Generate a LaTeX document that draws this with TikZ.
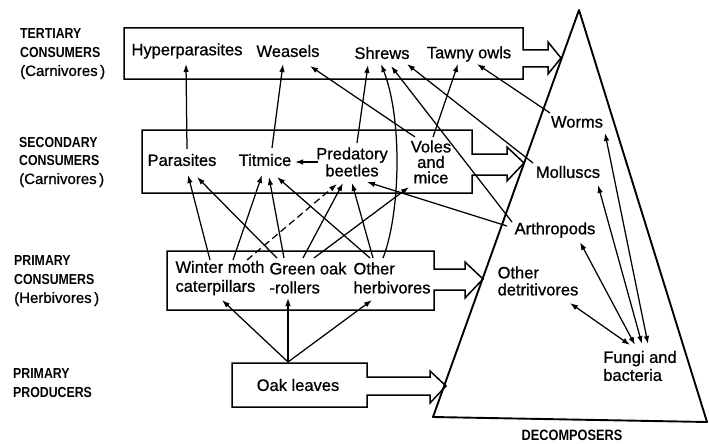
\documentclass[tikz,border=0pt]{standalone}
\usepackage{fontspec}
\setmainfont[FakeBold=0.8]{Liberation Sans}
\newfontfamily\capsfont[FakeStretch=0.85]{Liberation Sans Bold}
\newfontfamily\parenfont[FakeBold=0.8]{Liberation Sans}
\usetikzlibrary{arrows.meta,calc}
\begin{document}
\begin{tikzpicture}[x=1pt,y=-1pt,
  lbl/.style={inner sep=0pt, font=\fontsize{16.5}{18}\selectfont},
  side/.style={inner sep=0pt, anchor=west, align=left, font=\capsfont\fontsize{14.5}{18.5}\selectfont},
  box/.style={draw, line width=1.5pt, line join=miter},
  tri/.style={draw, line width=1.9pt, line join=round},
  arr/.style={-{Latex[length=8pt,width=5.5pt]}, line width=1.25pt},
  darr/.style={{Latex[length=8pt,width=5.5pt]}-{Latex[length=8pt,width=5.5pt]}, line width=1.25pt},
]
\useasboundingbox[fill=white] (0,0) rectangle (709,444);

% boxes with block arrows
\draw[box] (124,28) -- (523,28) -- (523,50) -- (548,50) -- (548,42) -- (561,58) -- (548,74) -- (548,67) -- (523,67) -- (523,79) -- (124,79) -- cycle;
\draw[box] (142,130) -- (472,130) -- (472,154) -- (507,154) -- (507,147) -- (524,163) -- (507,181) -- (507,175) -- (472,175) -- (472,193) -- (142,193) -- cycle;
\draw[box] (167,251) -- (434,251) -- (434,269) -- (465,269) -- (465,262) -- (483,279) -- (465,298) -- (465,290) -- (434,290) -- (434,310) -- (167,310) -- cycle;
\draw[box] (232,363) -- (367,363) -- (367,377) -- (430,377) -- (430,371) -- (446,386) -- (430,403) -- (430,395) -- (367,395) -- (367,407) -- (232,407) -- cycle;
% decomposer triangle
\draw[tri] (579,10) -- (433,417) -- (707,422) -- cycle;

% side labels
\node[side] (lt) at (20,54) {TERTIARY\\CONSUMERS\\{\parenfont\fontsize{15}{18.5}\selectfont (Carnivores\,)}};
\node[side] (ls) at (19,162) {SECONDARY\\CONSUMERS\\{\parenfont\fontsize{15}{18.5}\selectfont (Carnivores\,)}};
\node[side] (lp) at (14,281) {PRIMARY\\CONSUMERS\\{\parenfont\fontsize{15}{18.5}\selectfont (Herbivores\,)}};
\node[side] (lpp) at (13,383) {PRIMARY\\PRODUCERS};
\node[inner sep=0pt, font=\capsfont\fontsize{15}{16}\selectfont] (dec) at (572,435) {DECOMPOSERS};

% tertiary
\node[lbl] (hyp) at (187,51) {Hyperparasites};
\node[lbl] (wea) at (288,51) {Weasels};
\node[lbl] (shr) at (382,53) {Shrews};
\node[lbl] (taw) at (469,54) {Tawny owls};
% secondary
\node[lbl] (par) at (182,160) {Parasites};
\node[lbl] (tit) at (265,160) {Titmice};
\node[lbl, align=center, font=\fontsize{16.5}{17}\selectfont] (pb) at (352,162) {Predatory\\beetles};
\node[lbl, align=center, font=\fontsize{16.5}{15.5}\selectfont] (vm) at (431,162) {Voles\\and\\mice};
% primary
\node[lbl, align=left, font=\fontsize{16.5}{19}\selectfont] (wm) at (220,278) {Winter moth\\caterpillars};
\node[lbl, align=left, font=\fontsize{16.5}{19}\selectfont] (go) at (308,278) {Green oak\\-rollers};
\node[lbl, align=left, font=\fontsize{16.5}{19}\selectfont] (oh) at (392,278) {Other\\herbivores};
% producers
\node[lbl] (oak) at (298,385) {Oak leaves};
% decomposers
\node[lbl] (wor) at (577,122) {Worms};
\node[lbl] (mol) at (568,172) {Molluscs};
\node[lbl] (art) at (555,230) {Arthropods};
\node[lbl, align=left, font=\fontsize{16.5}{17}\selectfont] (od) at (538,281) {Other\\detritivores};
\node[lbl, align=left] (fun) at (640,366) {Fungi and\\bacteria};

% producers -> primary consumers
\draw[arr] ($(oak)+(-10,-23)$) -- ($(wm)+(2,22)$);
\draw[arr] ($(oak)+(-10,-23)$) -- ($(go)+(-20,20)$);
\draw[arr] ($(oak)+(-10,-23)$) -- ($(oh)+(-20,22)$);

% primary -> secondary
\draw[arr] ($(wm)+(-10,-18)$) -- ($(par)+(6,15)$);
\draw[arr] ($(wm)+(13,-18)$) -- ($(tit)+(-3,15)$);
\draw[arr, dash pattern=on 7pt off 4pt] ($(wm)+(27,-18)$) -- ($(pb)+(-15,22)$);
\draw[arr] ($(go)+(-31,-20)$) -- ($(par)+(15,17)$);
\draw[arr] ($(go)+(-24,-20)$) -- ($(tit)+(4,17)$);
\draw[arr] ($(go)+(-5,-20)$) -- ($(pb)+(-9,21)$);
\draw[arr] ($(go)+(6,-20)$) -- ($(vm)+(-22,25)$);
\draw[arr] ($(oh)+(-22,-20)$) -- ($(tit)+(12,17)$);
\draw[arr] ($(oh)+(-19,-20)$) -- ($(pb)+(0,21)$);
\draw[arr] ($(oh)+(-9,-20)$) .. controls (400,215) and (403,120) .. ($(shr)+(-1,11)$);

% secondary -> tertiary
\draw[arr] ($(par)+(5,-11)$) -- ($(hyp)+(-1,13)$);
\draw[arr] ($(tit)+(7,-12)$) -- ($(wea)+(-5,13)$);
\draw[arr] ($(pb)+(5,-19)$) -- ($(shr)+(-14,12)$);
\draw[arr] ($(vm)+(2,-25)$) -- ($(taw)+(-11,10)$);
\draw[arr] ($(vm)+(-16,-25)$) -- ($(wea)+(22,15)$);
\draw[arr] ($(pb)+(-34,0)$) -- ($(tit)+(30,2)$);

% decomposers -> consumers
\draw[arr] ($(wor)+(-27,-9)$) -- ($(taw)+(8,10)$);
\draw[arr] ($(mol)+(-35,-9)$) -- ($(shr)+(25,11)$);
\draw[arr] ($(art)+(-43,-8)$) -- ($(shr)+(9,13)$);
\draw[arr] ($(art)+(-48,-4)$) -- ($(pb)+(15,20)$);

% within decomposers
\draw[darr] ($(od)+(32,22)$) -- ($(fun)+(-10,-21)$);
\draw[darr] ($(art)+(25,12)$) -- ($(fun)+(-5,-21)$);
\draw[darr] ($(mol)+(30,13)$) -- ($(fun)+(2,-22)$);
\draw[darr] ($(wor)+(28,11)$) -- ($(fun)+(8,-22)$);
\end{tikzpicture}
\end{document}
